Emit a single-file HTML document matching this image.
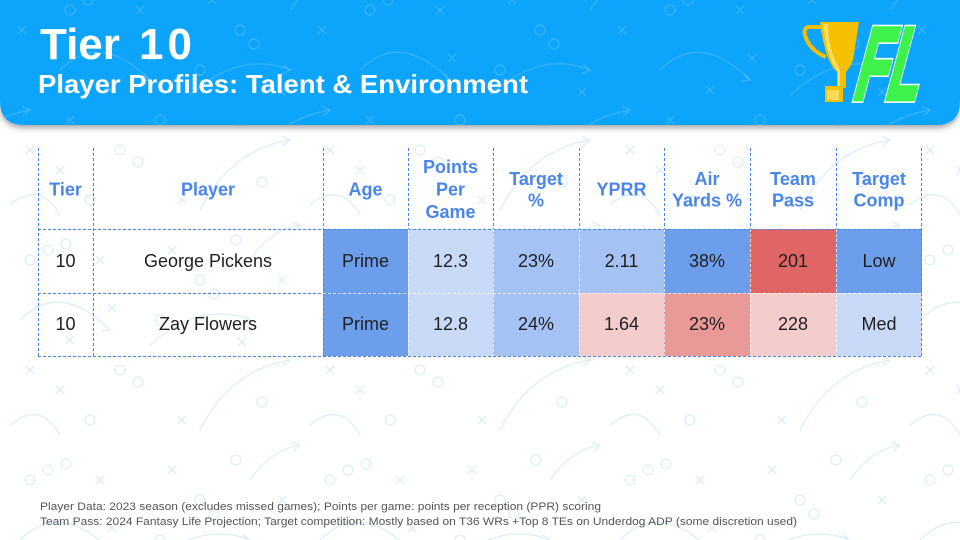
<!DOCTYPE html>
<html>
<head>
<meta charset="utf-8">
<style>
  html,body{margin:0;padding:0;background:#fff;}
  body{width:960px;height:540px;overflow:hidden;}
  svg{display:block;}
  text{font-family:"Liberation Sans", Arial, sans-serif;}
</style>
</head>
<body>
<svg width="960" height="540" viewBox="0 0 960 540" xmlns="http://www.w3.org/2000/svg">
  <defs>
    <g id="xm"><path d="M-4,-4 L4,4 M4,-4 L-4,4"/></g>
    <g id="doodle">
      <circle cx="30" cy="40" r="5"/><circle cx="48" cy="30" r="5"/><circle cx="66" cy="24" r="5"/>
      <circle cx="200" cy="60" r="5"/><circle cx="214" cy="74" r="5"/><circle cx="120" cy="150" r="5"/>
      <circle cx="138" cy="162" r="5"/><circle cx="262" cy="182" r="5"/><circle cx="90" cy="200" r="5"/>
      <circle cx="236" cy="20" r="5"/><circle cx="160" cy="100" r="5"/>
      <use href="#xm" x="100" y="40"/><use href="#xm" x="112" y="88"/><use href="#xm" x="172" y="30"/>
      <use href="#xm" x="242" y="122"/><use href="#xm" x="30" y="150"/><use href="#xm" x="60" y="170"/>
      <use href="#xm" x="182" y="200"/><use href="#xm" x="282" y="60"/><use href="#xm" x="70" y="120"/>
      <path d="M20,100 Q60,60 110,110"/><path d="M104,104 L110,110 L101,111"/>
      <path d="M150,125 Q200,80 250,100"/><path d="M243,95 L250,100 L242,104"/>
      <path d="M200,210 Q230,150 290,140"/><path d="M282,136 L290,140 L283,146"/>
      <path d="M10,205 Q40,180 60,215"/>
      <path d="M250,40 Q270,10 300,5"/><path d="M292,2 L300,5 L294,11"/>
    </g>
    <pattern id="bgpat" width="300" height="220" patternUnits="userSpaceOnUse">
      <g fill="none" stroke="#dbeef9" stroke-width="1.3"><use href="#doodle"/></g>
    </pattern>
    <pattern id="hdpat" width="300" height="220" patternUnits="userSpaceOnUse" x="40" y="-30">
      <g fill="none" stroke="#ffffff" stroke-opacity="0.16" stroke-width="1.4"><use href="#doodle"/></g>
    </pattern>
    <filter id="sh" x="-5%" y="-20%" width="110%" height="140%">
      <feDropShadow dx="0" dy="3" stdDeviation="3" flood-color="#000" flood-opacity="0.35"/>
    </filter>
  </defs>

  <!-- background -->
  <rect x="0" y="0" width="960" height="540" fill="#ffffff"/>
  <rect x="0" y="0" width="960" height="540" fill="url(#bgpat)"/>

  <!-- header -->
  <path d="M0,0 H960 V101 Q960,125 936,125 H24 Q0,125 0,101 Z" fill="#0aa4fb" filter="url(#sh)"/>
  <path d="M0,0 H960 V101 Q960,125 936,125 H24 Q0,125 0,101 Z" fill="url(#hdpat)"/>

  <text x="40" y="59" font-size="44" font-weight="bold" fill="#ffffff">Tier</text>
  <text x="139" y="59" font-size="44" font-weight="bold" fill="#ffffff" letter-spacing="4">10</text>
  <text x="38" y="93" font-size="26" font-weight="bold" fill="#ffffff" textLength="490" lengthAdjust="spacingAndGlyphs">Player Profiles: Talent &amp; Environment</text>

  <!-- logo: trophy -->
  <path d="M822,27 H810 Q803,27 805,35 Q809,50 826,57" fill="none" stroke="#f2bd00" stroke-width="4"/>
  <path d="M820,22 H859 L853,60 Q850,68 846,72 L846,88 H837 L837,72 Q829,64 825,48 Q821,34 820,22 Z" fill="#f5c000"/>
  <path d="M823,24 H828 Q828,50 840,70 L840,86 H838 L838,72 Q826,55 823,24 Z" fill="#ffdd66"/>
  <rect x="825" y="86" width="18" height="16" fill="#f5c000"/>
  <rect x="827" y="90" width="12" height="10" fill="#ffd95a"/>
  <!-- logo: FL -->
  <g transform="translate(851,99) skewX(-15) scale(0.8,1.55)">
    <text x="0" y="0" font-size="66" font-weight="bold" fill="#3ef24b" stroke="#ffffff" stroke-width="5" stroke-linejoin="miter">FL</text>
    <text x="0" y="0" font-size="66" font-weight="bold" fill="#3ef24b" stroke="#3ef24b" stroke-width="3" stroke-linejoin="miter">FL</text>
  </g>

  <!-- table cell fills -->
  <g>
    <rect x="323" y="229" width="85" height="64" fill="#6d9eeb"/>
    <rect x="408" y="229" width="85" height="64" fill="#c9daf8"/>
    <rect x="493" y="229" width="86" height="64" fill="#a4c2f4"/>
    <rect x="579" y="229" width="85" height="64" fill="#a4c2f4"/>
    <rect x="664" y="229" width="86" height="64" fill="#6d9eeb"/>
    <rect x="750" y="229" width="86" height="64" fill="#e06666"/>
    <rect x="836" y="229" width="86" height="64" fill="#6d9eeb"/>

    <rect x="323" y="293" width="85" height="63" fill="#6d9eeb"/>
    <rect x="408" y="293" width="85" height="63" fill="#c9daf8"/>
    <rect x="493" y="293" width="86" height="63" fill="#a4c2f4"/>
    <rect x="579" y="293" width="85" height="63" fill="#f4cccc"/>
    <rect x="664" y="293" width="86" height="63" fill="#ea9999"/>
    <rect x="750" y="293" width="86" height="63" fill="#f4cccc"/>
    <rect x="836" y="293" width="86" height="63" fill="#c9daf8"/>
  </g>

  <!-- dashed grid lines -->
  <g stroke-width="1" stroke-dasharray="3 2" fill="none">
    <g stroke="#4a86e8">
      <line x1="38.5" y1="148" x2="38.5" y2="356"/>
      <line x1="93.5" y1="148" x2="93.5" y2="356"/>
      <line x1="323.5" y1="148" x2="323.5" y2="356"/>
      <line x1="408.5" y1="148" x2="408.5" y2="229"/>
      <line x1="493.5" y1="148" x2="493.5" y2="229"/>
      <line x1="579.5" y1="148" x2="579.5" y2="229"/>
      <line x1="664.5" y1="148" x2="664.5" y2="229"/>
      <line x1="750.5" y1="148" x2="750.5" y2="229"/>
      <line x1="836.5" y1="148" x2="836.5" y2="229"/>
      <line x1="921.5" y1="148" x2="921.5" y2="356"/>
      <line x1="38" y1="229.5" x2="922" y2="229.5"/>
      <line x1="38" y1="293.5" x2="323" y2="293.5"/>
      <line x1="38" y1="356.5" x2="922" y2="356.5"/>
    </g>
    <g stroke="#ffffff" stroke-opacity="0.75">
      <line x1="408.5" y1="229" x2="408.5" y2="356"/>
      <line x1="493.5" y1="229" x2="493.5" y2="356"/>
      <line x1="579.5" y1="229" x2="579.5" y2="356"/>
      <line x1="664.5" y1="229" x2="664.5" y2="356"/>
      <line x1="750.5" y1="229" x2="750.5" y2="356"/>
      <line x1="836.5" y1="229" x2="836.5" y2="356"/>
      <line x1="323" y1="293.5" x2="922" y2="293.5"/>
    </g>
  </g>

  <!-- header labels -->
  <g font-size="18" font-weight="bold" fill="#4a86e8" text-anchor="middle">
    <text x="65.5" y="195.5">Tier</text>
    <text x="208" y="195.5">Player</text>
    <text x="365.5" y="195.5">Age</text>
    <text x="450.5" y="173">Points</text>
    <text x="450.5" y="195.5">Per</text>
    <text x="450.5" y="218">Game</text>
    <text x="536" y="185">Target</text>
    <text x="536" y="206.5">%</text>
    <text x="621.5" y="195.5">YPRR</text>
    <text x="707" y="185">Air</text>
    <text x="707" y="206.5">Yards %</text>
    <text x="793" y="185">Team</text>
    <text x="793" y="206.5">Pass</text>
    <text x="879" y="185">Target</text>
    <text x="879" y="206.5">Comp</text>
  </g>

  <!-- body -->
  <g font-size="18" fill="#1f1f1f" text-anchor="middle">
    <text x="65.5" y="267">10</text>
    <text x="208" y="267">George Pickens</text>
    <text x="365.5" y="267">Prime</text>
    <text x="450.5" y="267">12.3</text>
    <text x="536" y="267">23%</text>
    <text x="621.5" y="267">2.11</text>
    <text x="707" y="267">38%</text>
    <text x="793" y="267">201</text>
    <text x="879" y="267">Low</text>

    <text x="65.5" y="330">10</text>
    <text x="208" y="330">Zay Flowers</text>
    <text x="365.5" y="330">Prime</text>
    <text x="450.5" y="330">12.8</text>
    <text x="536" y="330">24%</text>
    <text x="621.5" y="330">1.64</text>
    <text x="707" y="330">23%</text>
    <text x="793" y="330">228</text>
    <text x="879" y="330">Med</text>
  </g>

  <!-- footer -->
  <g font-size="11" fill="#555555">
    <text x="40" y="510" textLength="561" lengthAdjust="spacingAndGlyphs">Player Data: 2023 season (excludes missed games); Points per game: points per reception (PPR) scoring</text>
    <text x="40" y="525" textLength="757" lengthAdjust="spacingAndGlyphs">Team Pass: 2024 Fantasy Life Projection; Target competition: Mostly based on T36 WRs +Top 8 TEs on Underdog ADP (some discretion used)</text>
  </g>
</svg>
</body>
</html>
